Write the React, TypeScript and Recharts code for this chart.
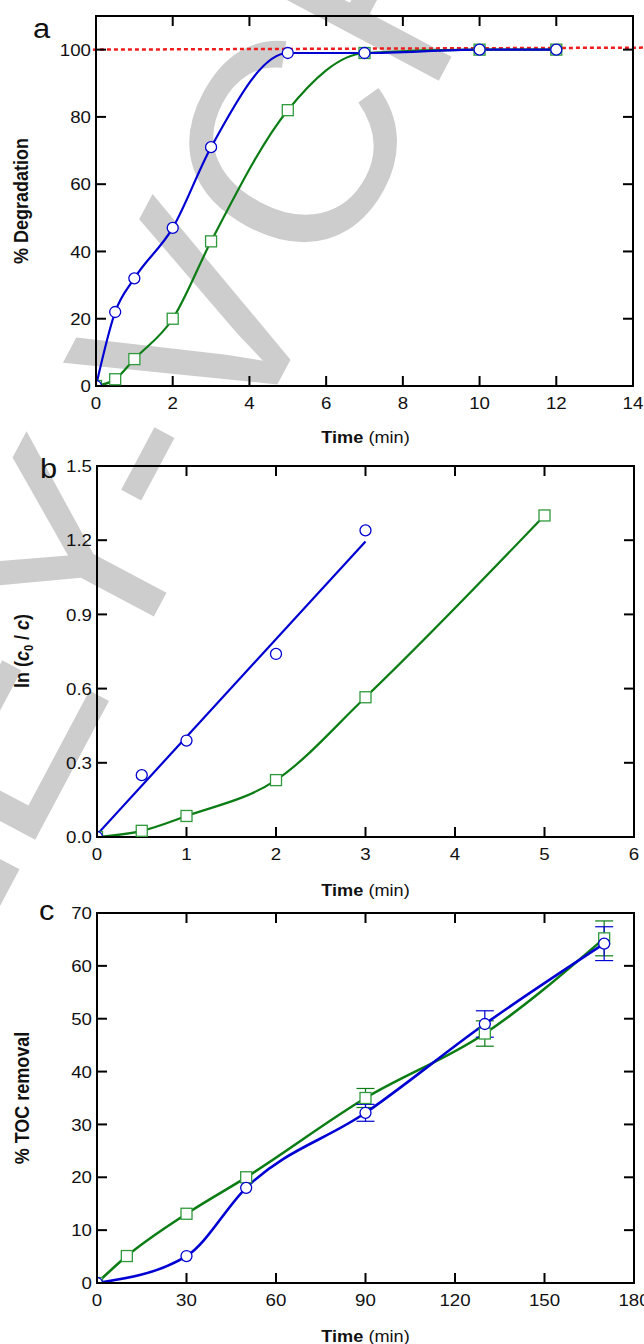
import React from "react";
import { LineChart, Line, XAxis, YAxis, ReferenceLine, ErrorBar } from "recharts";

const FONT = "'Liberation Sans', Arial, Helvetica, sans-serif";
const BLUE = "#0000d2";
const GREEN = "#0b7d14";
const GREEN_MK = "#2e9a3c";
const RED = "#ee1c1c";
const TICK = 10;
const SX = 1.1; // the figure is a bit wider than tall

// a: % degradation vs time (min)
const timeA = [0, 0.5, 1, 2, 3, 5, 7, 10, 12];
const degBlue = [0, 22, 32, 47, 71, 99, 99, 100, 100];
const degGreen = [0, 2, 8, 20, 43, 82, 99, 100, 100];
const xTicksA = [0, 2, 4, 6, 8, 10, 12, 14];
const yTicksA = [0, 20, 40, 60, 80, 100];
const refTimeA = [-0.08, 14.3];
const refDegA = [100, 100.6];

// b: ln(c0/c) vs time (min)
const timeBBlue = [0, 0.5, 1, 2, 3];
const lnBlue = [0, 0.25, 0.39, 0.74, 1.24];
const timeBGreen = [0, 0.5, 1, 2, 3, 5];
const lnGreen = [0, 0.025, 0.085, 0.23, 0.565, 1.3];
const fitTimeB = [0, 3];
const fitBlue = [0.01, 1.195];
const xTicksB = [0, 1, 2, 3, 4, 5, 6];
const yTicksB = [0, 0.3, 0.6, 0.9, 1.2, 1.5];

// c: % TOC removal vs time (min)
const timeCBlue = [0, 30, 50, 90, 130, 170];
const tocBlue = [0, 5.1, 18, 32.2, 49, 64.2];
const tocBlueErr = [0, 0, 0, 1.6, 2.5, 3.2];
const timeCGreen = [0, 10, 30, 50, 90, 130, 170];
const tocGreen = [0, 5.1, 13.1, 20, 35, 47.2, 65.2];
const tocGreenErr = [0, 0, 0, 0, 1.8, 2.4, 3.3];
const xTicksC = [0, 30, 60, 90, 120, 150, 180];
const yTicksC = [0, 10, 20, 30, 40, 50, 60, 70];

const rows = (xs: number[], ys: number[], es?: number[]) =>
  xs.map((x, i) => ({ x, y: ys[i], e: es ? es[i] : 0 }));

const circleDot = (color: string) => (p: any) =>
  p.cx == null ? (
    <g key={`c${p.index}`} />
  ) : (
    <circle key={`c${p.index}`} cx={p.cx} cy={p.cy} r={5.5} fill="#fff" stroke={color} strokeWidth={1.3} />
  );

const squareDot = (color: string) => (p: any) =>
  p.cx == null ? (
    <g key={`s${p.index}`} />
  ) : (
    <rect key={`s${p.index}`} x={p.cx - 5.5} y={p.cy - 5.5} width={11} height={11} fill="#fff" stroke={color} strokeWidth={1.3} />
  );

const tickText = { fontSize: 17, fontFamily: FONT, fill: "#111" };

function BottomTick(p: any) {
  return (
    <g>
      <line x1={p.x} x2={p.x} y1={p.y} y2={p.y - TICK} stroke="#000" strokeWidth={2} />
      <text transform={`translate(${p.x},${p.y + 23}) scale(${SX},1)`} textAnchor="middle" {...tickText}>
        {p.payload.value}
      </text>
    </g>
  );
}

function TopTick(p: any) {
  return <line x1={p.x} x2={p.x} y1={p.y} y2={p.y + TICK} stroke="#000" strokeWidth={2} />;
}

function LeftTick(p: any) {
  return (
    <g>
      <line x1={p.x} x2={p.x + TICK} y1={p.y} y2={p.y} stroke="#000" strokeWidth={2} />
      <text transform={`translate(${p.x - 5},${p.y}) scale(${SX},1)`} textAnchor="end" dy="0.36em" {...tickText}>
        {p.fmt(p.payload.value)}
      </text>
    </g>
  );
}

function RightTick(p: any) {
  return <line x1={p.x} x2={p.x - TICK} y1={p.y} y2={p.y} stroke="#000" strokeWidth={2} />;
}

const axisLine = { stroke: "#000", strokeWidth: 2, strokeLinecap: "square" as const };

function Panel(props: {
  top: number;
  left: number;
  right: number;
  plotH: number;
  xDomain: [number, number];
  xTicks: number[];
  yDomain: [number, number];
  yTicks: number[];
  yFmt: (v: number) => string;
  children: React.ReactNode;
}) {
  const H = 420;
  const common = {
    type: "number" as const,
    tickLine: false,
    tickSize: 0,
    tickMargin: 0,
    interval: 0 as const,
    axisLine,
    allowDataOverflow: true,
  };
  return (
    <div style={{ position: "absolute", left: 0, top: props.top, width: 644, height: H }}>
      <LineChart
        width={644}
        height={H}
        margin={{ top: 6, right: 644 - props.right - 10, bottom: H - 16 - props.plotH - 30, left: props.left - 60 }}
        style={{ overflow: "visible" }}
      >
        <XAxis {...common} xAxisId="b" orientation="bottom" dataKey="x" height={30} domain={props.xDomain} ticks={props.xTicks} tick={(p: any) => <BottomTick {...p} />} />
        <XAxis {...common} xAxisId="t" orientation="top" dataKey="x" height={10} domain={props.xDomain} ticks={props.xTicks} tick={(p: any) => <TopTick {...p} />} />
        <YAxis {...common} yAxisId="l" orientation="left" width={60} domain={props.yDomain} ticks={props.yTicks} tick={(p: any) => <LeftTick {...p} fmt={props.yFmt} />} />
        <YAxis {...common} yAxisId="r" orientation="right" width={10} domain={props.yDomain} ticks={props.yTicks} tick={(p: any) => <RightTick {...p} />} />
        {props.children}
      </LineChart>
    </div>
  );
}

function TimeLabel({ y }: { y: number }) {
  return (
    <text transform={`translate(365.5,${y}) scale(${SX},1)`} textAnchor="middle" fontSize={16.5} fontFamily={FONT} fill="#111">
      <tspan fontWeight="bold">Time</tspan>
      <tspan> (min)</tspan>
    </text>
  );
}

function YTitle({ x, y, children }: { x: number; y: number; children: React.ReactNode }) {
  return (
    <text transform={`translate(${x},${y}) scale(${SX},1) rotate(-90)`} textAnchor="middle" dy="0.35em" fontSize={18} fontWeight="bold" fontFamily={FONT} fill="#111">
      {children}
    </text>
  );
}

function Letter({ x, y, t }: { x: number; y: number; t: string }) {
  return (
    <text transform={`translate(${x},${y}) scale(${SX},1)`} fontSize={28} fontFamily={FONT} fill="#111">
      {t}
    </text>
  );
}

const line = { isAnimationActive: false, xAxisId: "b", yAxisId: "l", dataKey: "y", activeDot: false as const };

export default function App() {
  return (
    <div style={{ position: "absolute", left: 0, top: 0, width: 644, height: 1344, background: "#fff", overflow: "hidden" }}>
      <svg width={644} height={1344} style={{ position: "absolute", left: 0, top: 0 }}>
        <text transform="translate(-218,1316) rotate(-62)" fontSize={290} fontFamily={FONT} fill="#cdcdcd">
          WILEY-VCH
        </text>
      </svg>

      <Panel top={0} left={96} right={633} plotH={370} xDomain={[0, 14]} xTicks={xTicksA} yDomain={[0, 110]} yTicks={yTicksA} yFmt={(v) => String(v)}>
        <ReferenceLine
          xAxisId="b"
          yAxisId="l"
          segment={[
            { x: refTimeA[0], y: refDegA[0] },
            { x: refTimeA[1], y: refDegA[1] },
          ]}
          ifOverflow="visible"
          stroke={RED}
          strokeWidth={2.5}
          strokeDasharray="4 3"
        />
        <Line {...line} data={rows(timeA, degGreen)} type="monotone" stroke={GREEN} strokeWidth={2.2} dot={squareDot(GREEN_MK)} />
        <Line {...line} data={rows(timeA, degBlue)} type="monotone" stroke={BLUE} strokeWidth={2.2} dot={circleDot(BLUE)} />
      </Panel>

      <Panel top={450} left={97} right={634} plotH={371} xDomain={[0, 6]} xTicks={xTicksB} yDomain={[0, 1.5]} yTicks={yTicksB} yFmt={(v) => v.toFixed(1)}>
        <Line {...line} data={rows(timeBGreen, lnGreen)} type="monotone" stroke={GREEN} strokeWidth={2.2} dot={squareDot(GREEN_MK)} />
        <Line {...line} data={rows(fitTimeB, fitBlue)} type="linear" stroke={BLUE} strokeWidth={2.2} dot={false} />
        <Line {...line} data={rows(timeBBlue, lnBlue)} stroke="none" dot={circleDot(BLUE)} />
      </Panel>

      <Panel top={897} left={97} right={634} plotH={370} xDomain={[0, 180]} xTicks={xTicksC} yDomain={[0, 70]} yTicks={yTicksC} yFmt={(v) => String(v)}>
        <Line {...line} data={rows(timeCGreen, tocGreen, tocGreenErr)} type="monotone" stroke={GREEN} strokeWidth={2.6} dot={squareDot(GREEN_MK)}>
          <ErrorBar dataKey="e" direction="y" width={9} stroke={GREEN} strokeWidth={1.2} isAnimationActive={false} />
        </Line>
        <Line {...line} data={rows(timeCBlue, tocBlue, tocBlueErr)} type="monotone" stroke={BLUE} strokeWidth={2.6} dot={circleDot(BLUE)}>
          <ErrorBar dataKey="e" direction="y" width={9} stroke={BLUE} strokeWidth={1.2} isAnimationActive={false} />
        </Line>
      </Panel>

      <svg width={644} height={1344} style={{ position: "absolute", left: 0, top: 0, pointerEvents: "none" }}>
        <Letter x={33} y={38} t="a" />
        <Letter x={40} y={478} t="b" />
        <Letter x={39} y={920} t="c" />
        <YTitle x={21.5} y={201}>% Degradation</YTitle>
        <YTitle x={22} y={651}>
          <tspan>ln (</tspan>
          <tspan fontStyle="italic">c</tspan>
          <tspan fontSize={11} dy={4}>0</tspan>
          <tspan dy={-4}> / </tspan>
          <tspan fontStyle="italic">c</tspan>
          <tspan>)</tspan>
        </YTitle>
        <YTitle x={22.5} y={1098}>% TOC removal</YTitle>
        <TimeLabel y={443} />
        <TimeLabel y={896} />
        <TimeLabel y={1342} />
      </svg>
    </div>
  );
}
